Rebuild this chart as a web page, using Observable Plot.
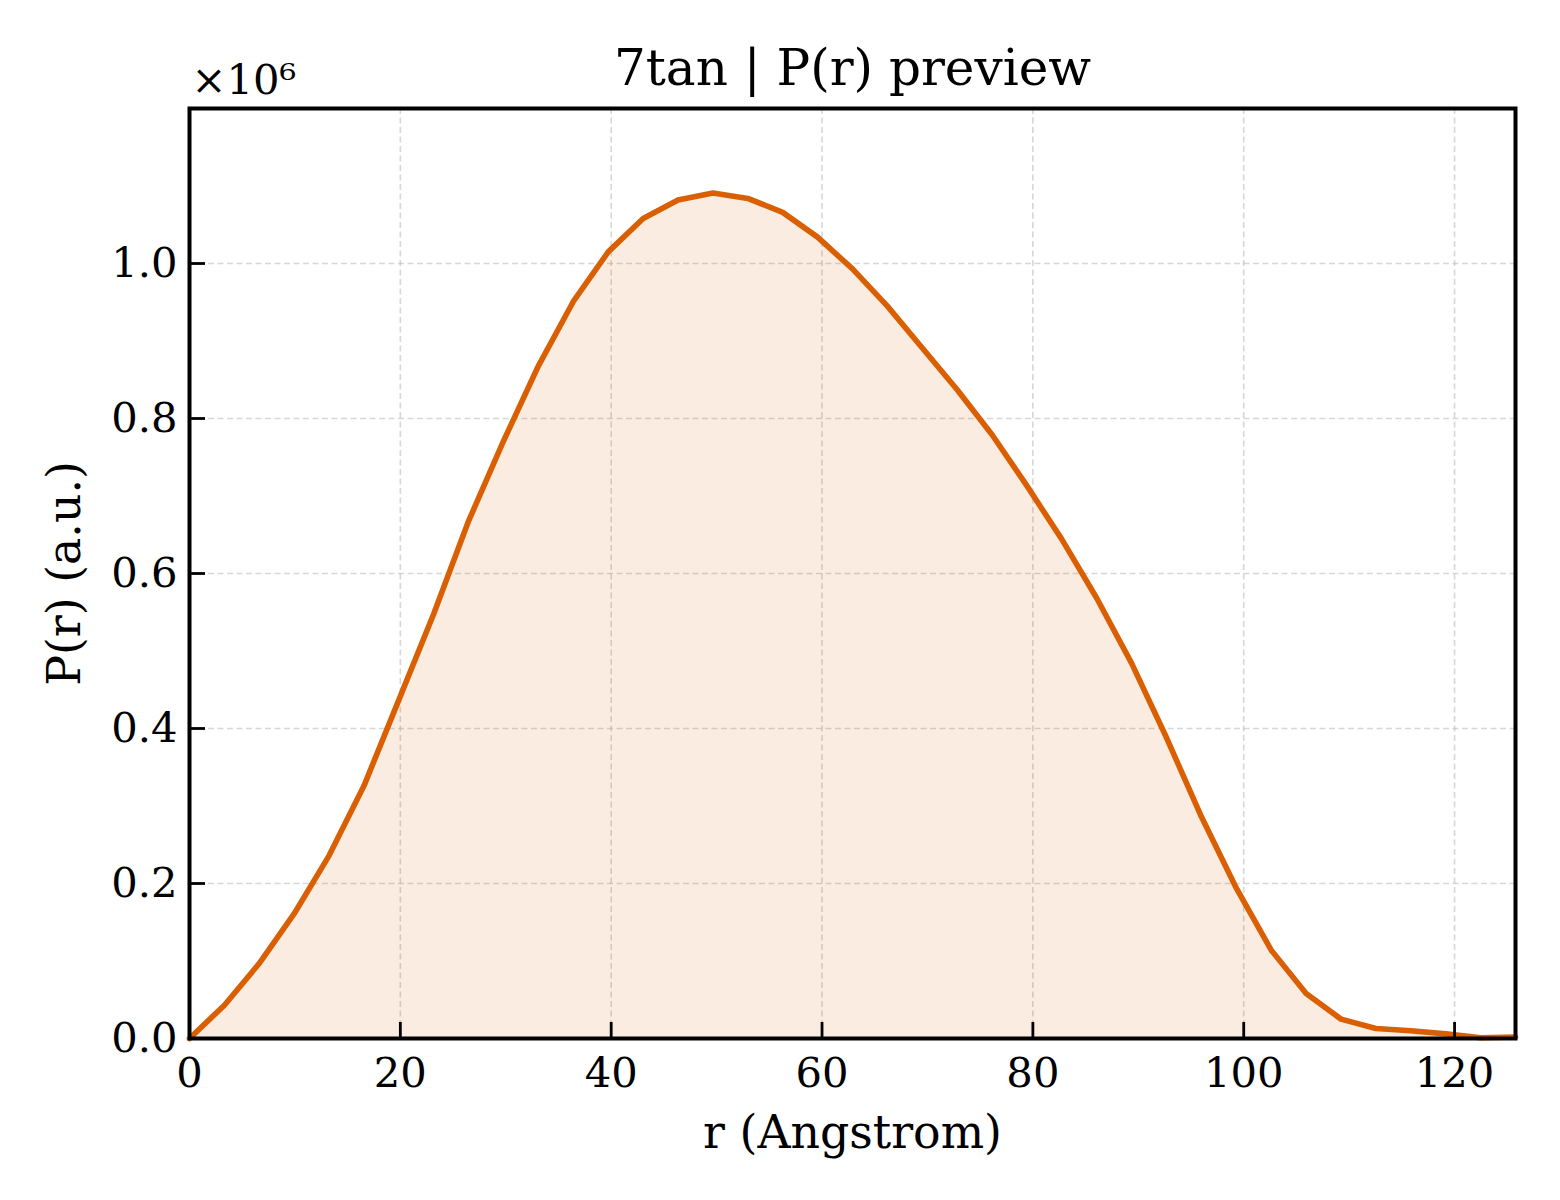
<!DOCTYPE html>
<html>
<head>
<meta charset="utf-8">
<script src="https://cdn.jsdelivr.net/npm/d3@7"></script>
<script src="https://cdn.jsdelivr.net/npm/@observablehq/plot@0.6"></script>
<style>
  html, body { margin: 0; padding: 0; background: #fff; }
  #chart { width: 1560px; height: 1200px; }
</style>
</head>
<body>
<div id="chart"></div>
<script>
const title = "7tan | P(r) preview";
const xLabel = "r (Angstrom)";
const yLabel = "P(r) (a.u.)";
const offsetLabel = "×10⁶";

// r in Angstrom
const rValues = [0, 3.31, 6.62, 9.93, 13.24, 16.55, 19.86, 23.17, 26.48, 29.79,
  33.1, 36.41, 39.72, 43.03, 46.34, 49.65, 52.96, 56.27, 59.58, 62.89,
  66.2, 69.51, 72.82, 76.13, 79.44, 82.75, 86.06, 89.37, 92.68, 95.99,
  99.3, 102.61, 105.92, 109.23, 112.54, 115.85, 119.16, 122.47, 125.78];
// P(r) in units of 1e6
const prValues = [0, 0.043, 0.097, 0.161, 0.236, 0.326, 0.437, 0.548, 0.668, 0.771,
  0.868, 0.951, 1.015, 1.058, 1.082, 1.091, 1.084, 1.066, 1.034, 0.993,
  0.945, 0.891, 0.837, 0.779, 0.713, 0.644, 0.568, 0.484, 0.388, 0.286,
  0.194, 0.114, 0.058, 0.025, 0.013, 0.010, 0.006, 0.001, 0.002];

const xTicks = [0, 20, 40, 60, 80, 100, 120];
const yTicks = [0, 0.2, 0.4, 0.6, 0.8, 1.0];
const xGrid = [20, 40, 60, 80, 100, 120];
const yGrid = [0.2, 0.4, 0.6, 0.8, 1.0];

const data = rValues.map((r, i) => ({r, p: prValues[i]}));

const W = 1560, H = 1200, mL = 189, mR = 45, mT = 108, mB = 162;
const frameW = W - mL - mR, frameH = H - mT - mB;
const tickLen = 16;
const orange = "#d95f02";
const gridStyle = {stroke: "#b0b0b0", strokeOpacity: 0.5, strokeWidth: 1.6, strokeDasharray: "6,3.5"};
const centered = {textAnchor: "middle", lineAnchor: "middle", fill: "#000"};

const chart = Plot.plot({
  width: W,
  height: H,
  marginLeft: mL,
  marginRight: mR,
  marginTop: mT,
  marginBottom: mB,
  style: {fontFamily: "DejaVu Serif", background: "#fff", color: "#000"},
  x: {domain: [0, 125.78]},
  y: {domain: [0, 1.2]},
  marks: [
    Plot.gridX(xGrid, gridStyle),
    Plot.gridY(yGrid, gridStyle),
    Plot.areaY(data, {x: "r", y: "p", fill: orange, fillOpacity: 0.12}),
    Plot.line(data, {x: "r", y: "p", stroke: orange, strokeWidth: 5.6, strokeLinejoin: "round"}),
    Plot.ruleX(xTicks, {x: d => d, stroke: "#000", strokeWidth: 2.8, insetTop: frameH - tickLen}),
    Plot.ruleY(yTicks, {y: d => d, stroke: "#000", strokeWidth: 2.8, insetRight: frameW - tickLen}),
    Plot.axisX(xTicks, {tickSize: 0, tickPadding: 19, fontSize: 41.7, label: null, tickFormat: d => String(d)}),
    Plot.axisY(yTicks, {tickSize: 0, tickPadding: 12, fontSize: 41.7, label: null, tickFormat: d3.format(".1f")}),
    Plot.frame({stroke: "#000", strokeWidth: 4}),
    Plot.text([title], {...centered, text: d => d, frameAnchor: "top", dy: -40, fontSize: 50}),
    Plot.text([offsetLabel], {...centered, text: d => d, frameAnchor: "top-left", textAnchor: "start", dy: -28, dx: 2, fontSize: 41.7}),
    Plot.text([xLabel], {...centered, text: d => d, frameAnchor: "bottom", dy: 95, fontSize: 45.8}),
    Plot.text([yLabel], {...centered, text: d => d, frameAnchor: "left", dx: -124, rotate: -90, fontSize: 45.8})
  ]
});
document.getElementById("chart").appendChild(chart);
</script>
</body>
</html>
